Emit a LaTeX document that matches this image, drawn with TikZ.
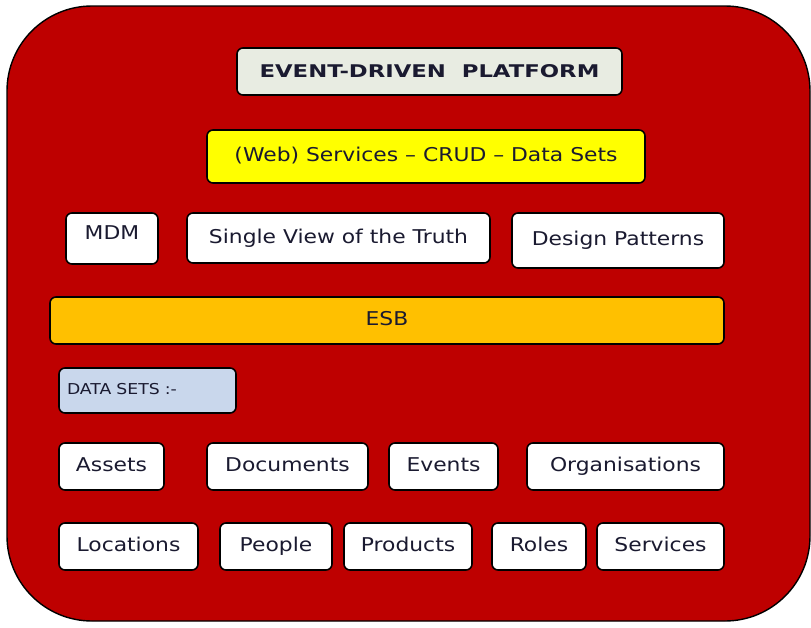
\documentclass[tikz,border=0pt]{standalone}
\usepackage{fontspec}
\setmainfont{DejaVu Sans}
\newfontfamily\boxfont{DejaVu Sans}[FakeStretch=1.15]
\newfontfamily\titlefont{DejaVu Sans}[FakeStretch=1.3]
\definecolor{outerred}{HTML}{BE0000}
\definecolor{titlefill}{HTML}{E8ECE2}
\definecolor{webyellow}{HTML}{FFFF00}
\definecolor{esborange}{HTML}{FFC000}
\definecolor{dsblue}{HTML}{C9D7EC}
\definecolor{txt}{HTML}{1A1A30}
\tikzset{
  card/.style={draw=black, line width=1.6pt, rounded corners=6pt, fill=white,
    inner sep=0pt, text=txt, text height=14pt, text depth=4pt,
    font=\boxfont\fontsize{19}{22}\selectfont},
}
\begin{document}
\begin{tikzpicture}[x=1pt,y=-1pt]
\useasboundingbox (0,0) rectangle (811,627);
\fill[white] (0,0) rectangle (811,627);
\draw[fill=outerred, draw=black, line width=1.4pt, rounded corners=85pt] (7,6) rectangle (810,621);
\node[card, fill=titlefill, minimum width=385pt, minimum height=47pt, text height=13pt, text depth=2pt,
  font=\titlefont\bfseries\fontsize{17.5}{20}\selectfont] (title) at (429.5,71.5) {EVENT-DRIVEN\ \ PLATFORM};
\node[card, fill=webyellow, minimum width=438pt, minimum height=53pt] (web) at (426,156.5) {(Web) Services – CRUD – Data Sets};
\node[card, minimum width=92pt, minimum height=51pt, text height=14pt, text depth=12pt] (mdm) at (112,238.5) {MDM};
\node[card, minimum width=303pt, minimum height=50pt] (svt) at (338.5,238) {Single View of the Truth};
\node[card, minimum width=212pt, minimum height=55pt] (dp) at (618,240.5) {Design Patterns};
\node[card, fill=esborange, minimum width=674pt, minimum height=47pt] (esb) at (387,320.5) {ESB};
\node[card, fill=dsblue, minimum height=45pt, text width=161pt, inner xsep=8pt, align=left,
  text height=11pt, text depth=3pt,
  font=\boxfont\fontsize{15}{17}\selectfont] (ds) at (147.5,390.5) {DATA SETS :-};
\node[card, minimum width=105pt, minimum height=47pt] (assets) at (111.5,466.5) {Assets};
\node[card, minimum width=161pt, minimum height=47pt] (docs) at (287.5,466.5) {Documents};
\node[card, minimum width=109pt, minimum height=47pt] (events) at (443.5,466.5) {Events};
\node[card, minimum width=197pt, minimum height=47pt] (orgs) at (625.5,466.5) {Organisations};
\node[card, minimum width=139pt, minimum height=47pt] (loc) at (128.5,546.5) {Locations};
\node[card, minimum width=112pt, minimum height=47pt] (people) at (276,546.5) {People};
\node[card, minimum width=128pt, minimum height=47pt] (prod) at (408,546.5) {Products};
\node[card, minimum width=94pt, minimum height=47pt] (roles) at (539,546.5) {Roles};
\node[card, minimum width=127pt, minimum height=47pt] (serv) at (660.5,546.5) {Services};
\end{tikzpicture}
\end{document}
